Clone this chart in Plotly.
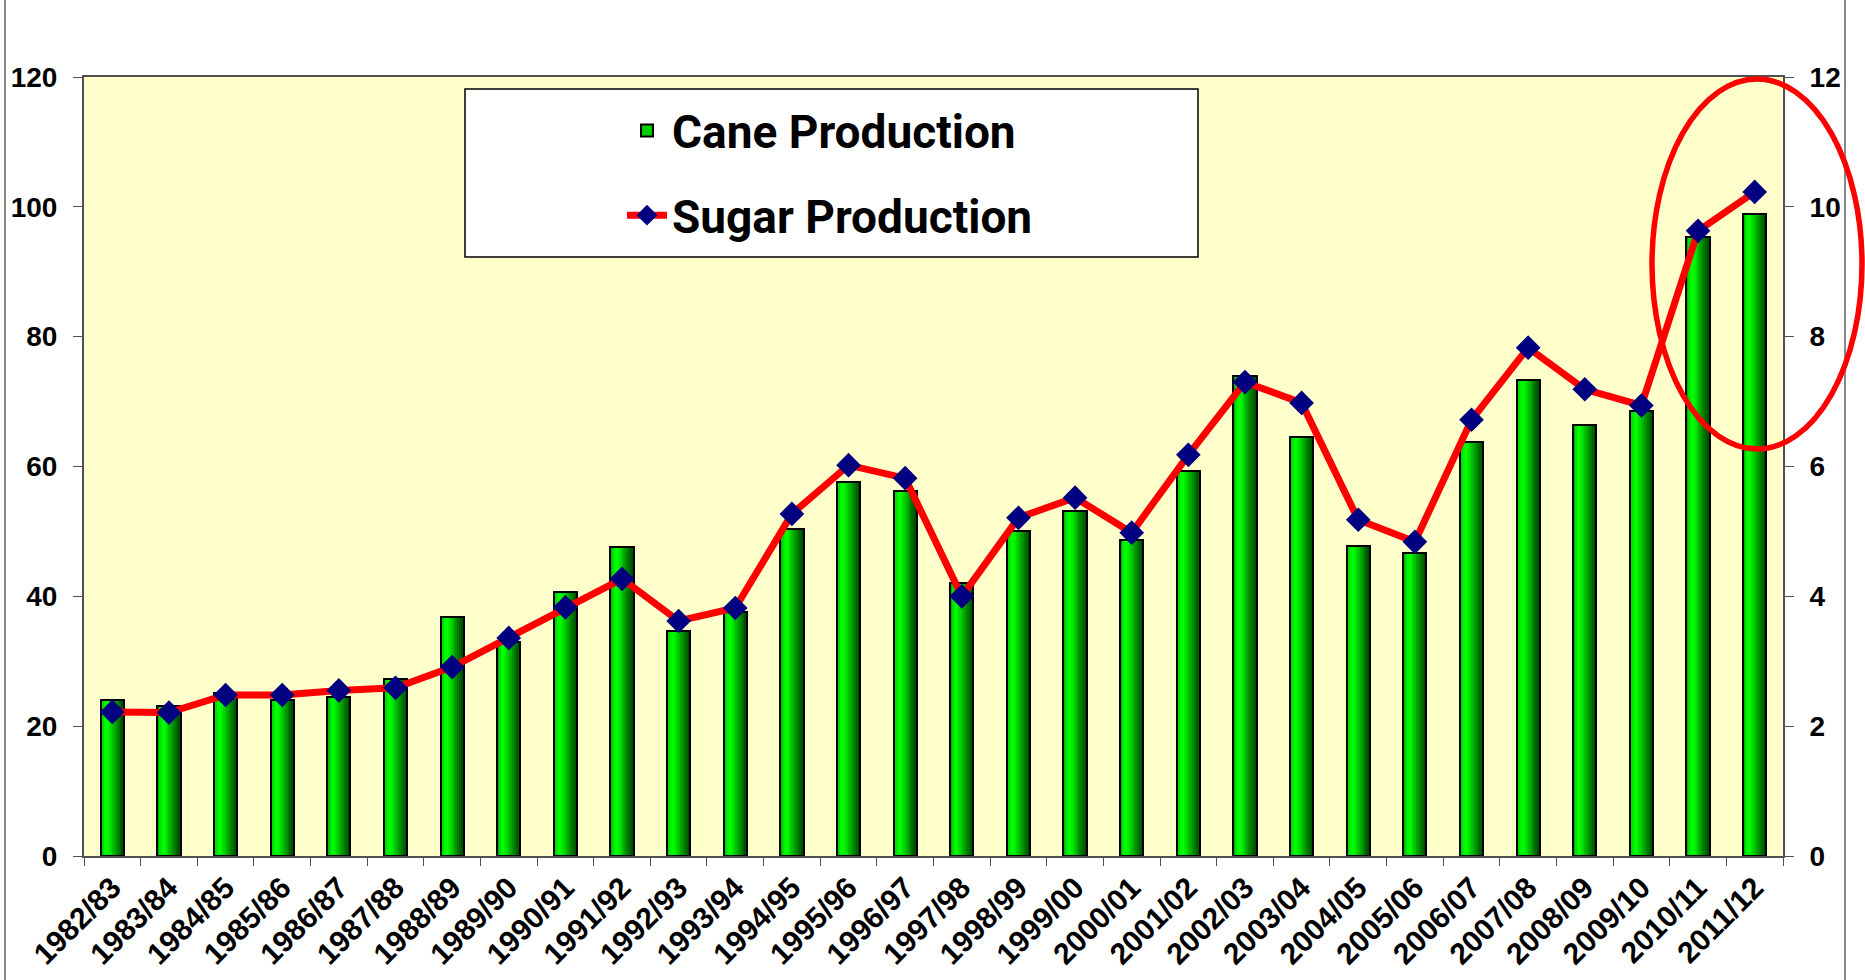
import plotly.graph_objects as go

# ---------------- data ----------------
SEASONS = ["1982/83", "1983/84", "1984/85", "1985/86", "1986/87", "1987/88",
           "1988/89", "1989/90", "1990/91", "1991/92", "1992/93", "1993/94",
           "1994/95", "1995/96", "1996/97", "1997/98", "1998/99", "1999/00",
           "2000/01", "2001/02", "2002/03", "2003/04", "2004/05", "2005/06",
           "2006/07", "2007/08", "2008/09", "2009/10", "2010/11", "2011/12"]
CANE_PRODUCTION = [24.0, 23.1, 25.1, 24.1, 24.5, 27.3, 36.8, 33.0, 40.7, 47.6,
                   34.7, 37.6, 50.4, 57.6, 56.2, 42.1, 50.1, 53.2, 48.7, 59.3,
                   74.0, 64.5, 47.8, 46.7, 63.8, 73.3, 66.4, 68.6, 95.4, 98.9]
SUGAR_PRODUCTION = [2.22, 2.21, 2.48, 2.48, 2.55, 2.59, 2.91, 3.36, 3.83, 4.27,
                    3.62, 3.82, 5.27, 6.02, 5.82, 4.00, 5.21, 5.52, 4.98, 6.18,
                    7.30, 6.98, 5.18, 4.84, 6.72, 7.83, 7.19, 6.94, 9.63, 10.23]
LEFT_TICKS = [0, 20, 40, 60, 80, 100, 120]
RIGHT_TICKS = [0, 2, 4, 6, 8, 10, 12]

# ---------------- style ----------------
W, H = 1865, 980
ML, MR, MT, MB = 84, 82, 77, 124
BAR_W = 0.41
GRADIENT = ["#00b400", "#00dc00", "#00f500", "#00ff00", "#00ef00", "#00d800",
            "#00c000", "#00a800", "#009000", "#007800", "#006400", "#005000"]
TICK_FONT = dict(family="Liberation Sans, Arial, sans-serif", size=28,
                 color="black", weight="bold")
XTICK_FONT = dict(family="Liberation Sans, Arial, sans-serif", size=30,
                  color="black", weight="bold")
LEG_FONT = dict(family="Roboto, DejaVu Sans, sans-serif",
                size=46, color="black", weight="bold")
AXIS_COL = "#505050"

fig = go.Figure()

# legend / base bar (filled, outlined)
fig.add_trace(go.Bar(
    x=SEASONS, y=CANE_PRODUCTION, name="Cane Production", width=BAR_W,
    marker=dict(color="#00d000", line=dict(color="black", width=2)),
    legendgroup="cane", hoverinfo="skip"))

# gradient strips
n = len(GRADIENT)
for k, col in enumerate(GRADIENT):
    fig.add_trace(go.Bar(
        x=SEASONS, y=CANE_PRODUCTION, width=BAR_W / n,
        offset=-BAR_W / 2 + k * BAR_W / n,
        marker=dict(color=col, line=dict(width=0)),
        showlegend=False, hoverinfo="skip"))

# outline on top
fig.add_trace(go.Bar(
    x=SEASONS, y=CANE_PRODUCTION, width=BAR_W,
    marker=dict(color="rgba(0,0,0,0)", line=dict(color="black", width=2)),
    showlegend=False, hoverinfo="skip"))

# sugar line
fig.add_trace(go.Scatter(
    x=SEASONS, y=SUGAR_PRODUCTION, name="Sugar Production", yaxis="y2",
    mode="lines+markers", legendgroup="sugar",
    line=dict(color="#ff0000", width=7),
    marker=dict(symbol="diamond", size=19, color="#000080",
                line=dict(width=0))))

def px_x(p):
    return (p - ML) / (W - ML - MR)

def px_y(p):
    return (H - MB - p) / (H - MT - MB)

shapes = [
    # legend box
    dict(type="rect", xref="paper", yref="paper",
         x0=px_x(465), x1=px_x(1198), y0=px_y(257), y1=px_y(89),
         fillcolor="white", line=dict(color="black", width=1.5), layer="above"),
    # chart-area frame lines
    dict(type="line", xref="paper", yref="paper", x0=px_x(5), x1=px_x(5),
         y0=px_y(H), y1=px_y(0), line=dict(color="#888888", width=2)),
    dict(type="line", xref="paper", yref="paper", x0=px_x(1845), x1=px_x(1845),
         y0=px_y(H), y1=px_y(0), line=dict(color="#888888", width=2)),
    # highlight ellipse
    dict(type="circle", xref="paper", yref="paper",
         x0=px_x(1652), x1=px_x(1862), y0=px_y(449), y1=px_y(79),
         line=dict(color="#ff0000", width=5.5), layer="above"),
]

fig.update_layout(
    width=W, height=H,
    margin=dict(l=ML, r=MR, t=MT, b=MB, pad=0, autoexpand=False),
    paper_bgcolor="white", plot_bgcolor="#ffffcc",
    barmode="overlay", bargap=0,
    showlegend=True,
    legend=dict(x=px_x(622), y=px_y(94), xanchor="left", yanchor="top",
                bgcolor="rgba(0,0,0,0)", borderwidth=0, font=LEG_FONT,
                tracegroupgap=22, itemwidth=40),
    shapes=shapes,
    xaxis=dict(type="category", categoryorder="array", categoryarray=SEASONS,
               tickangle=-45, tickfont=XTICK_FONT, ticks="outside",
               tickson="boundaries", ticklen=8, tickcolor=AXIS_COL,
               showline=True, linecolor=AXIS_COL, linewidth=2, mirror=True,
               showgrid=False, zeroline=False, automargin=False,
               range=[-0.5, len(SEASONS) - 0.5]),
    yaxis=dict(range=[0, 120], tickvals=LEFT_TICKS, tickfont=TICK_FONT,
               ticks="outside", ticklen=9, tickcolor=AXIS_COL,
               showline=True, linecolor=AXIS_COL, linewidth=2, automargin=False,
               showgrid=False, zeroline=False, ticklabelstandoff=10),
    yaxis2=dict(range=[0, 12], tickvals=RIGHT_TICKS, tickfont=TICK_FONT,
                overlaying="y", side="right", ticks="outside", ticklen=9,
                tickcolor=AXIS_COL, showline=True, linecolor=AXIS_COL,
                linewidth=2, showgrid=False, zeroline=False, automargin=False,
                ticklabelstandoff=10),
    yaxis3=dict(range=[0, 120], tickvals=LEFT_TICKS, overlaying="y",
                side="left", anchor="x", ticks="inside", ticklen=9,
                tickcolor=AXIS_COL, showticklabels=False, showline=False,
                showgrid=False, zeroline=False),
    yaxis4=dict(range=[0, 12], tickvals=RIGHT_TICKS, overlaying="y",
                side="right", anchor="x", ticks="inside", ticklen=9,
                tickcolor=AXIS_COL, showticklabels=False, showline=False,
                showgrid=False, zeroline=False),
)

fig.write_html("out.html",
               config={"displayModeBar": False},
               post_script="document.body.style.margin='0';"
                           "document.body.style.overflow='hidden';")
